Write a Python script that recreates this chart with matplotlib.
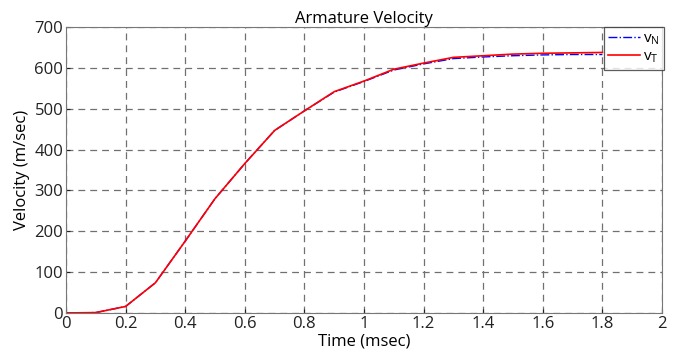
import matplotlib
matplotlib.use("Agg")
import matplotlib.pyplot as plt

plt.rcParams['font.family'] = ['Open Sans', 'DejaVu Sans']

time_ms = [0, 0.1, 0.2, 0.3, 0.4, 0.5, 0.6, 0.7, 0.8, 0.9, 1.0, 1.1, 1.2, 1.3, 1.4, 1.5, 1.6, 1.7, 1.8]
v_T = [0, 1, 16, 74, 176, 280, 366, 447, 495, 542, 568, 597, 612, 626, 630, 634, 636, 637, 638]
v_N = [0, 1, 16, 74, 176, 280, 366, 447, 495, 541, 567, 595, 610, 623, 627, 630, 632, 633, 633]

fig = plt.figure(figsize=(6.79, 3.62), dpi=100)
ax = fig.add_axes([0.0972, 0.1354, 0.8778, 0.7896])

ax.plot(time_ms, v_N, color='blue', linestyle='-.', linewidth=1.0, label='v$_\\mathregular{N}$')
ax.plot(time_ms, v_T, color='red', linestyle='-', linewidth=1.2, label='v$_\\mathregular{T}$')

ax.set_xlim(0, 2)
ax.set_ylim(0, 700)
ax.set_xticks([0, 0.2, 0.4, 0.6, 0.8, 1, 1.2, 1.4, 1.6, 1.8, 2])
ax.set_xticklabels(['0', '0.2', '0.4', '0.6', '0.8', '1', '1.2', '1.4', '1.6', '1.8', '2'])
ax.set_yticks(range(0, 701, 100))
ax.grid(True, color='#707070', linestyle=(0, (5.5, 4)), linewidth=0.9)
ax.tick_params(direction='in', length=3, labelsize=12, colors='#222222', pad=2)
for s in ax.spines.values():
    s.set_color('#777777')
    s.set_linewidth(0.8)

ax.set_xlabel('Time (msec)', fontsize=12, labelpad=1)
ax.set_ylabel('Velocity (m/sec)', fontsize=12, labelpad=3)
ax.set_title('Armature Velocity', fontsize=12, pad=3)

leg = ax.legend(loc='upper right', bbox_to_anchor=(1.003, 1.0), fontsize=11, frameon=True,
                fancybox=False, edgecolor='#333333', handlelength=2.1, borderpad=0.3,
                labelspacing=0.15, handletextpad=0.15, borderaxespad=0.0)
leg.get_frame().set_linewidth(0.9)

fig.savefig('out.png', dpi=100)
